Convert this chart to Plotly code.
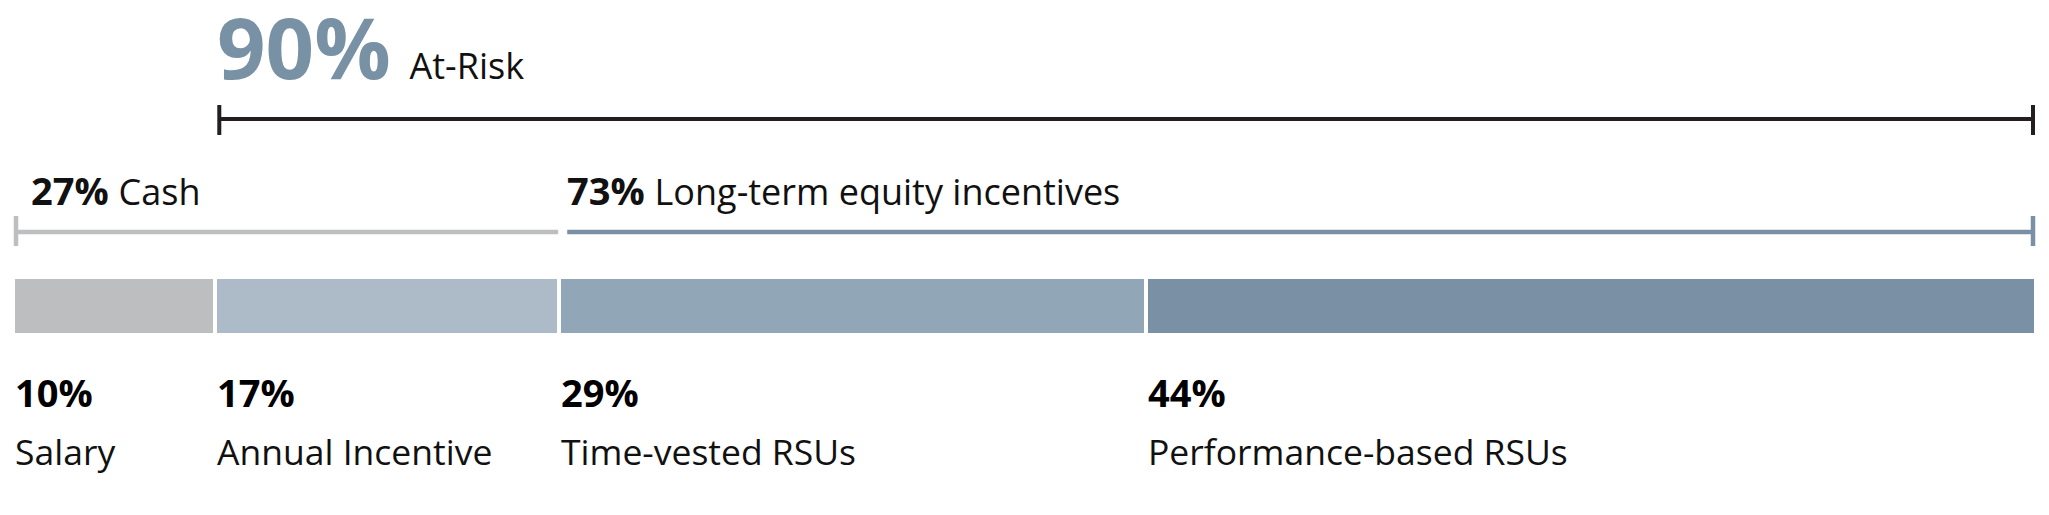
import plotly.graph_objects as go

# ---- data ----
categories = ["Salary", "Annual Incentive", "Time-vested RSUs", "Performance-based RSUs"]
values = [10, 17, 29, 44]
bar_colors = ["#bdbec0", "#adbac7", "#91a6b7", "#7990a5"]

group_names = ["Cash", "Long-term equity incentives"]
group_values = [27, 73]
group_colors = ["#bdbec0", "#7990a5"]

at_risk_label = "At-Risk"
at_risk_value = 90

FONT = "Open Sans"
W, H = 2049, 515
ML, MR = 13, 13
PX = 100.0 / (W - ML - MR)  # data units per pixel


def mid(baseline, size):
    # center of text box for a given baseline (Open Sans metrics)
    return baseline - 0.388 * size


fig = go.Figure()

# stacked bar segments
starts = []
acc = 0
for name, v, c in zip(categories, values, bar_colors):
    starts.append(acc)
    fig.add_trace(go.Bar(
        x=[v], y=[306], width=58, orientation="h", name=name,
        marker=dict(color=c, line=dict(color="white", width=4)),
        hoverinfo="skip", showlegend=False,
    ))
    acc += v

total = acc


def bracket(x0, x1, y, y_top, y_bot, color, tick_left=True, tick_right=True, width=4):
    xs, ys = [], []
    if tick_left:
        xs += [x0, x0, None]
        ys += [y_top, y_bot, None]
    xs += [x0, x1, None]
    ys += [y, y, None]
    if tick_right:
        xs += [x1, x1]
        ys += [y_top, y_bot]
    fig.add_trace(go.Scatter(x=xs, y=ys, mode="lines",
                             line=dict(color=color, width=width),
                             hoverinfo="skip", showlegend=False))


# at-risk bracket (from end of salary to the end)
ar_start = total - at_risk_value
bracket(ar_start + 4 * PX, total - 3 * PX, 119, 105, 135, "#231f20", width=4)

# cash / LTI brackets
g0_end = group_values[0]
bracket(0 + 3 * PX, g0_end - 1 * PX, 232, 216, 246, group_colors[0],
        tick_left=True, tick_right=False, width=4.5)
bracket(g0_end + 8 * PX, total - 3 * PX, 232, 216, 246, group_colors[1],
        tick_left=False, tick_right=True, width=4.5)

annotations = []

# 90% At-Risk
annotations.append(dict(
    x=ar_start, y=mid(79, 85), xref="x", yref="y", xanchor="left", yanchor="middle",
    text=f"<b>{at_risk_value}%</b><span style='font-size:36px;color:#111111'>&nbsp;&nbsp;{at_risk_label}</span>",
    showarrow=False, font=dict(family=FONT, size=85, color="#7891a5"),
))

# group headers
gstart = 0
for i, (gname, gv) in enumerate(zip(group_names, group_values)):
    annotations.append(dict(
        x=gstart, y=mid(205, 38), xref="x", yref="y", xanchor="left", yanchor="middle",
        xshift=16 if i == 0 else 6,
        text=f"<b>{gv}%</b> <span style='font-size:36px'>{gname}</span>", showarrow=False,
        font=dict(family=FONT, size=38, color="#111111"),
    ))
    gstart += gv

# segment labels
for s, name, v in zip(starts, categories, values):
    annotations.append(dict(
        x=s, y=mid(407, 38), xref="x", yref="y", xanchor="left", yanchor="middle",
        text=f"<b>{v}%</b>", showarrow=False,
        font=dict(family=FONT, size=38, color="#000000"),
    ))
    annotations.append(dict(
        x=s, y=mid(465, 35.5), xref="x", yref="y", xanchor="left", yanchor="middle",
        text=name, showarrow=False,
        font=dict(family=FONT, size=35.5, color="#111111"),
    ))

fig.update_layout(
    width=W, height=H,
    margin=dict(l=ML, r=MR, t=0, b=0),
    barmode="stack",
    paper_bgcolor="white", plot_bgcolor="white",
    xaxis=dict(range=[0, total], visible=False, fixedrange=True),
    yaxis=dict(range=[H, 0], visible=False, fixedrange=True),
    annotations=annotations,
    font=dict(family=FONT),
    showlegend=False,
)

fig.write_html("out.html", config={"displayModeBar": False},
               post_script="document.body.style.margin='0';")
